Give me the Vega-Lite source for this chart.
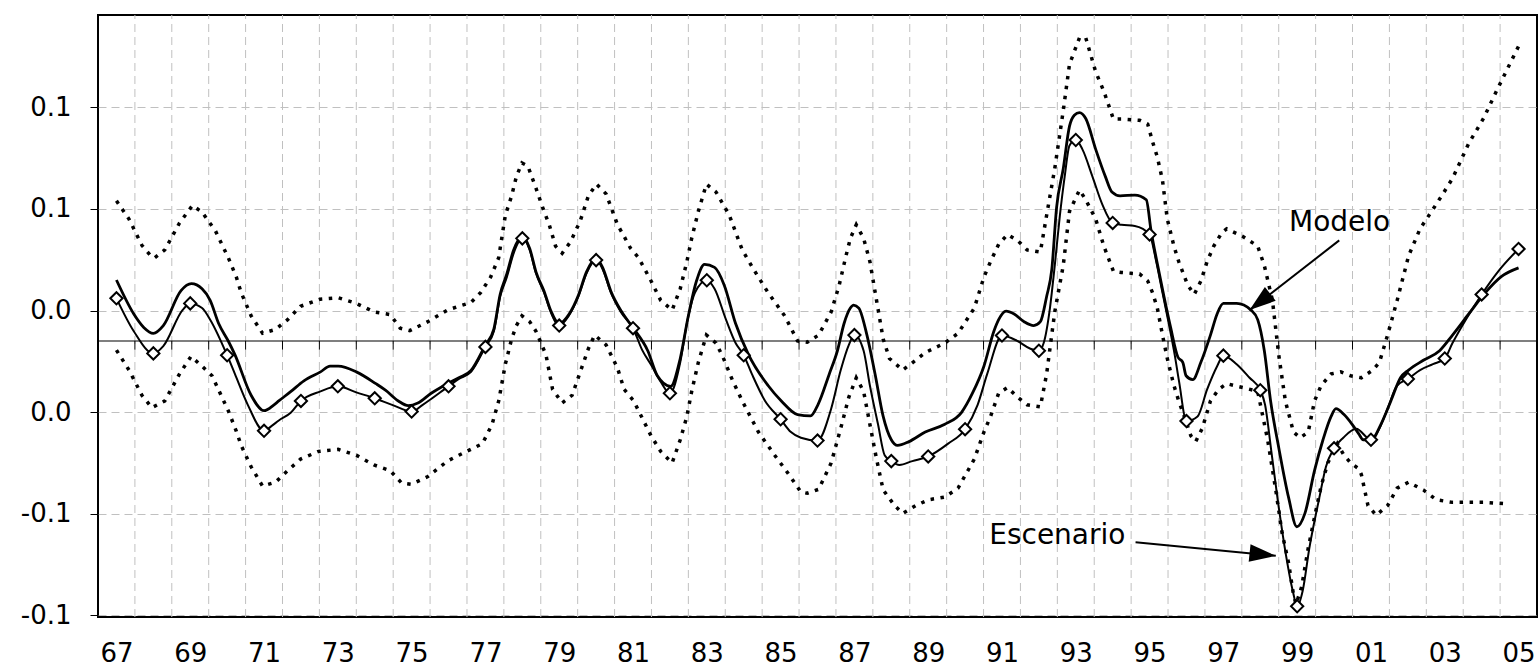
{
  "$schema": "https://vega.github.io/schema/vega-lite/v6.json",
  "width": 1439,
  "height": 602,
  "autosize": "none",
  "padding": {"left": 98, "top": 15, "right": 2, "bottom": 51},
  "background": "white",
  "view": {"stroke": "black", "strokeWidth": 2},
  "datasets": {
    "bounds": [{"t":1967.5},{"t":1968.5},{"t":1969.5},{"t":1970.5},{"t":1971.5},{"t":1972.5},{"t":1973.5},{"t":1974.5},{"t":1975.5},{"t":1976.5},{"t":1977.5},{"t":1978.5},{"t":1979.5},{"t":1980.5},{"t":1981.5},{"t":1982.5},{"t":1983.5},{"t":1984.5},{"t":1985.5},{"t":1986.5},{"t":1987.5},{"t":1988.5},{"t":1989.5},{"t":1990.5},{"t":1991.5},{"t":1992.5},{"t":1993.5},{"t":1994.5},{"t":1995.5},{"t":1996.5},{"t":1997.5},{"t":1998.5},{"t":1999.5},{"t":2000.5},{"t":2001.5},{"t":2002.5},{"t":2003.5},{"t":2004.5}],
    "diamonds": [{"t":1967,"v":0.021},{"t":1968,"v":-0.0061},{"t":1969,"v":0.0185},{"t":1970,"v":-0.007},{"t":1971,"v":-0.0442},{"t":1972,"v":-0.0295},{"t":1973,"v":-0.0223},{"t":1974,"v":-0.0282},{"t":1975,"v":-0.0347},{"t":1976,"v":-0.0223},{"t":1977,"v":-0.0029},{"t":1978,"v":0.0505},{"t":1979,"v":0.0076},{"t":1980,"v":0.0398},{"t":1981,"v":0.0063},{"t":1982,"v":-0.0257},{"t":1983,"v":0.0299},{"t":1984,"v":-0.007},{"t":1985,"v":-0.0385},{"t":1986,"v":-0.049},{"t":1987,"v":0.0029},{"t":1988,"v":-0.0591},{"t":1989,"v":-0.0568},{"t":1990,"v":-0.0434},{"t":1991,"v":0.0027},{"t":1992,"v":-0.0048},{"t":1993,"v":0.0989},{"t":1994,"v":0.0581},{"t":1995,"v":0.0524},{"t":1996,"v":-0.0394},{"t":1997,"v":-0.0072},{"t":1998,"v":-0.0242},{"t":1999,"v":-0.1305},{"t":2000,"v":-0.0528},{"t":2001,"v":-0.0486},{"t":2002,"v":-0.0187},{"t":2003,"v":-0.0086},{"t":2004,"v":0.0229},{"t":2005,"v":0.0453}],
    "escenario": [{"t":1967,"v":0.021},{"t":1967.47,"v":0.0048},{"t":1968,"v":-0.0061},{"t":1968.27,"v":-0.0025},{"t":1968.79,"v":0.0152},{"t":1969,"v":0.0185},{"t":1969.32,"v":0.0162},{"t":1969.54,"v":0.0105},{"t":1970,"v":-0.007},{"t":1970.21,"v":-0.0162},{"t":1970.56,"v":-0.0314},{"t":1971,"v":-0.0442},{"t":1971.2,"v":-0.0419},{"t":1971.4,"v":-0.0391},{"t":1971.73,"v":-0.0352},{"t":1972,"v":-0.0295},{"t":1972.53,"v":-0.0248},{"t":1973,"v":-0.0223},{"t":1973.5,"v":-0.0253},{"t":1974,"v":-0.0282},{"t":1974.47,"v":-0.0314},{"t":1975,"v":-0.0347},{"t":1975.3,"v":-0.0314},{"t":1976,"v":-0.0223},{"t":1976.28,"v":-0.0187},{"t":1976.61,"v":-0.0152},{"t":1977,"v":-0.0029},{"t":1977.23,"v":0.0048},{"t":1977.4,"v":0.0219},{"t":1977.58,"v":0.0314},{"t":1977.76,"v":0.0429},{"t":1978,"v":0.0505},{"t":1978.2,"v":0.0448},{"t":1978.37,"v":0.0333},{"t":1978.59,"v":0.0238},{"t":1978.77,"v":0.0143},{"t":1979,"v":0.0076},{"t":1979.26,"v":0.0124},{"t":1979.52,"v":0.0219},{"t":1979.74,"v":0.0333},{"t":1980,"v":0.0398},{"t":1980.18,"v":0.0352},{"t":1980.4,"v":0.0238},{"t":1980.67,"v":0.0143},{"t":1981,"v":0.0063},{"t":1981.25,"v":-0.0045},{"t":1981.5,"v":-0.012},{"t":1981.75,"v":-0.02},{"t":1982,"v":-0.0257},{"t":1982.28,"v":-0.0105},{"t":1982.46,"v":0.0086},{"t":1982.68,"v":0.0238},{"t":1983,"v":0.0299},{"t":1983.21,"v":0.0257},{"t":1983.52,"v":0.0105},{"t":1983.78,"v":-0.001},{"t":1984,"v":-0.007},{"t":1984.22,"v":-0.0162},{"t":1984.58,"v":-0.0295},{"t":1985,"v":-0.0385},{"t":1985.28,"v":-0.0448},{"t":1985.55,"v":-0.0476},{"t":1986,"v":-0.049},{"t":1986.37,"v":-0.0333},{"t":1986.63,"v":-0.0143},{"t":1986.85,"v":-0.0019},{"t":1987,"v":0.0029},{"t":1987.25,"v":-0.0048},{"t":1987.42,"v":-0.0219},{"t":1987.64,"v":-0.041},{"t":1987.82,"v":-0.0562},{"t":1988,"v":-0.0591},{"t":1988.22,"v":-0.061},{"t":1988.57,"v":-0.0591},{"t":1989,"v":-0.0568},{"t":1989.54,"v":-0.0505},{"t":1990,"v":-0.0434},{"t":1990.34,"v":-0.0314},{"t":1990.6,"v":-0.0162},{"t":1991,"v":0.0027},{"t":1991.42,"v":0.0},{"t":1991.77,"v":-0.0038},{"t":1992,"v":-0.0048},{"t":1992.13,"v":-0.001},{"t":1992.3,"v":0.0162},{"t":1992.43,"v":0.0371},{"t":1992.57,"v":0.0619},{"t":1992.7,"v":0.081},{"t":1992.83,"v":0.0962},{"t":1993,"v":0.0989},{"t":1993.18,"v":0.0943},{"t":1993.45,"v":0.081},{"t":1993.71,"v":0.0676},{"t":1994,"v":0.0581},{"t":1994.24,"v":0.0572},{"t":1994.6,"v":0.0566},{"t":1995,"v":0.0524},{"t":1995.18,"v":0.0391},{"t":1995.35,"v":0.0238},{"t":1995.52,"v":0.0086},{"t":1995.68,"v":-0.0067},{"t":1995.8,"v":-0.02},{"t":1996,"v":-0.0394},{"t":1996.3,"v":-0.0371},{"t":1996.56,"v":-0.0238},{"t":1996.83,"v":-0.0124},{"t":1997,"v":-0.0072},{"t":1997.36,"v":-0.0114},{"t":1997.71,"v":-0.0181},{"t":1998,"v":-0.0242},{"t":1998.13,"v":-0.0314},{"t":1998.3,"v":-0.0543},{"t":1998.48,"v":-0.0791},{"t":1998.7,"v":-0.1057},{"t":1998.88,"v":-0.1229},{"t":1999,"v":-0.1305},{"t":1999.15,"v":-0.1229},{"t":1999.33,"v":-0.1019},{"t":1999.6,"v":-0.0772},{"t":1999.78,"v":-0.0619},{"t":2000,"v":-0.0528},{"t":2000.25,"v":-0.0476},{"t":2000.6,"v":-0.0432},{"t":2001,"v":-0.0486},{"t":2001.23,"v":-0.0429},{"t":2001.45,"v":-0.0333},{"t":2001.71,"v":-0.0219},{"t":2002,"v":-0.0187},{"t":2002.33,"v":-0.0143},{"t":2002.68,"v":-0.0114},{"t":2003,"v":-0.0086},{"t":2003.21,"v":-0.001},{"t":2003.57,"v":0.0105},{"t":2004,"v":0.0229},{"t":2004.45,"v":0.0343},{"t":2005,"v":0.0453}],
    "modelo": [{"t":1967,"v":0.03},{"t":1967.47,"v":0.0133},{"t":1967.74,"v":0.0067},{"t":1968,"v":0.0038},{"t":1968.27,"v":0.0076},{"t":1968.75,"v":0.0248},{"t":1969.03,"v":0.0282},{"t":1969.32,"v":0.0257},{"t":1969.54,"v":0.02},{"t":1969.77,"v":0.0086},{"t":1970.03,"v":0.0},{"t":1970.21,"v":-0.0067},{"t":1970.65,"v":-0.0267},{"t":1971,"v":-0.0343},{"t":1971.27,"v":-0.0314},{"t":1971.4,"v":-0.0295},{"t":1971.73,"v":-0.0248},{"t":1972.08,"v":-0.0196},{"t":1972.53,"v":-0.0152},{"t":1972.79,"v":-0.0124},{"t":1973.01,"v":-0.0124},{"t":1973.5,"v":-0.0152},{"t":1974.03,"v":-0.021},{"t":1974.29,"v":-0.0242},{"t":1974.64,"v":-0.0295},{"t":1974.91,"v":-0.0318},{"t":1975.17,"v":-0.0305},{"t":1975.53,"v":-0.0257},{"t":1975.92,"v":-0.0215},{"t":1976.28,"v":-0.0181},{"t":1976.61,"v":-0.0145},{"t":1977,"v":-0.002},{"t":1977.23,"v":0.006},{"t":1977.4,"v":0.023},{"t":1977.58,"v":0.033},{"t":1977.76,"v":0.0445},{"t":1978,"v":0.0515},{"t":1978.2,"v":0.0455},{"t":1978.37,"v":0.034},{"t":1978.59,"v":0.0245},{"t":1978.77,"v":0.015},{"t":1979,"v":0.0085},{"t":1979.26,"v":0.013},{"t":1979.52,"v":0.0225},{"t":1979.74,"v":0.034},{"t":1980,"v":0.0405},{"t":1980.18,"v":0.036},{"t":1980.4,"v":0.0245},{"t":1980.67,"v":0.015},{"t":1981,"v":0.0065},{"t":1981.4,"v":-0.0048},{"t":1981.66,"v":-0.0171},{"t":1982.02,"v":-0.0223},{"t":1982.28,"v":-0.0086},{"t":1982.5,"v":0.0124},{"t":1982.72,"v":0.0295},{"t":1982.94,"v":0.0377},{"t":1983.21,"v":0.0362},{"t":1983.47,"v":0.0276},{"t":1983.78,"v":0.0086},{"t":1984.13,"v":-0.0067},{"t":1984.66,"v":-0.0219},{"t":1985.02,"v":-0.0295},{"t":1985.46,"v":-0.0362},{"t":1985.81,"v":-0.0368},{"t":1986.02,"v":-0.031},{"t":1986.32,"v":-0.0162},{"t":1986.54,"v":-0.0048},{"t":1986.72,"v":0.0086},{"t":1986.89,"v":0.0162},{"t":1986.98,"v":0.0177},{"t":1987.12,"v":0.0162},{"t":1987.34,"v":0.0029},{"t":1987.56,"v":-0.0162},{"t":1987.78,"v":-0.0371},{"t":1988,"v":-0.0486},{"t":1988.17,"v":-0.0514},{"t":1988.48,"v":-0.0495},{"t":1988.92,"v":-0.0448},{"t":1989.45,"v":-0.041},{"t":1989.9,"v":-0.0352},{"t":1990.2,"v":-0.0257},{"t":1990.51,"v":-0.0124},{"t":1990.78,"v":0.0048},{"t":1990.91,"v":0.0105},{"t":1991.11,"v":0.0147},{"t":1991.33,"v":0.0133},{"t":1991.6,"v":0.0095},{"t":1991.86,"v":0.0076},{"t":1992.04,"v":0.0095},{"t":1992.21,"v":0.0219},{"t":1992.35,"v":0.0352},{"t":1992.48,"v":0.0657},{"t":1992.66,"v":0.0848},{"t":1992.83,"v":0.1057},{"t":1992.96,"v":0.1111},{"t":1993.1,"v":0.1124},{"t":1993.27,"v":0.1095},{"t":1993.54,"v":0.0943},{"t":1993.8,"v":0.081},{"t":1993.98,"v":0.0733},{"t":1994.2,"v":0.0714},{"t":1994.6,"v":0.0718},{"t":1994.91,"v":0.0695},{"t":1995.04,"v":0.0543},{"t":1995.22,"v":0.0371},{"t":1995.39,"v":0.0219},{"t":1995.57,"v":0.0067},{"t":1995.77,"v":-0.008},{"t":1995.9,"v":-0.0105},{"t":1995.99,"v":-0.0171},{"t":1996.17,"v":-0.019},{"t":1996.39,"v":-0.0105},{"t":1996.65,"v":0.0029},{"t":1996.83,"v":0.0133},{"t":1997,"v":0.0185},{"t":1997.36,"v":0.0185},{"t":1997.75,"v":0.0152},{"t":1997.93,"v":0.0105},{"t":1998.11,"v":-0.0048},{"t":1998.28,"v":-0.0295},{"t":1998.5,"v":-0.0524},{"t":1998.77,"v":-0.0772},{"t":1998.99,"v":-0.0914},{"t":1999.21,"v":-0.0848},{"t":1999.47,"v":-0.0638},{"t":1999.7,"v":-0.0486},{"t":1999.92,"v":-0.0371},{"t":2000.05,"v":-0.0333},{"t":2000.27,"v":-0.0362},{"t":2000.49,"v":-0.041},{"t":2000.67,"v":-0.0457},{"t":2000.79,"v":-0.0486},{"t":2001.01,"v":-0.0486},{"t":2001.27,"v":-0.041},{"t":2001.54,"v":-0.0295},{"t":2001.8,"v":-0.0181},{"t":2002.02,"v":-0.0143},{"t":2002.42,"v":-0.0095},{"t":2002.86,"v":-0.0048},{"t":2003.21,"v":0.0029},{"t":2003.65,"v":0.0133},{"t":2004.1,"v":0.0238},{"t":2004.54,"v":0.0318},{"t":2005,"v":0.036}],
    "upper": [{"t":1967,"v":0.069},{"t":1967.34,"v":0.06},{"t":1967.69,"v":0.0471},{"t":1967.96,"v":0.0413},{"t":1968.04,"v":0.041},{"t":1968.31,"v":0.0448},{"t":1968.71,"v":0.0581},{"t":1969.06,"v":0.0667},{"t":1969.32,"v":0.0634},{"t":1969.68,"v":0.0543},{"t":1970.03,"v":0.041},{"t":1970.25,"v":0.0314},{"t":1970.38,"v":0.0238},{"t":1970.65,"v":0.0124},{"t":1970.96,"v":0.0038},{"t":1971.31,"v":0.0057},{"t":1971.64,"v":0.0105},{"t":1971.99,"v":0.0171},{"t":1972.52,"v":0.0206},{"t":1973.01,"v":0.0213},{"t":1973.5,"v":0.0185},{"t":1973.98,"v":0.0143},{"t":1974.42,"v":0.013},{"t":1974.69,"v":0.0063},{"t":1974.95,"v":0.0051},{"t":1975.44,"v":0.0095},{"t":1975.97,"v":0.0152},{"t":1976.28,"v":0.0171},{"t":1976.61,"v":0.019},{"t":1976.87,"v":0.0238},{"t":1977.14,"v":0.0314},{"t":1977.36,"v":0.041},{"t":1977.54,"v":0.0619},{"t":1977.71,"v":0.0714},{"t":1977.84,"v":0.081},{"t":1977.99,"v":0.0876},{"t":1978.15,"v":0.0861},{"t":1978.37,"v":0.0752},{"t":1978.55,"v":0.0657},{"t":1978.73,"v":0.0572},{"t":1978.9,"v":0.0467},{"t":1979.08,"v":0.0432},{"t":1979.3,"v":0.0486},{"t":1979.57,"v":0.0591},{"t":1979.79,"v":0.0714},{"t":1980.01,"v":0.0772},{"t":1980.27,"v":0.0724},{"t":1980.58,"v":0.0572},{"t":1980.76,"v":0.0514},{"t":1980.93,"v":0.0457},{"t":1981.15,"v":0.041},{"t":1981.49,"v":0.0295},{"t":1981.75,"v":0.02},{"t":1982.06,"v":0.0152},{"t":1982.28,"v":0.0257},{"t":1982.46,"v":0.0391},{"t":1982.59,"v":0.0505},{"t":1982.77,"v":0.0638},{"t":1982.99,"v":0.0772},{"t":1983.25,"v":0.0733},{"t":1983.61,"v":0.0619},{"t":1983.96,"v":0.0448},{"t":1984.27,"v":0.0352},{"t":1984.66,"v":0.0238},{"t":1985.11,"v":0.0124},{"t":1985.46,"v":0.0},{"t":1985.72,"v":-0.0006},{"t":1986.03,"v":0.0029},{"t":1986.37,"v":0.0143},{"t":1986.59,"v":0.0276},{"t":1986.76,"v":0.041},{"t":1986.89,"v":0.0505},{"t":1987.05,"v":0.0572},{"t":1987.25,"v":0.0505},{"t":1987.42,"v":0.0391},{"t":1987.6,"v":0.02},{"t":1987.78,"v":0.001},{"t":1987.95,"v":-0.0086},{"t":1988.31,"v":-0.0143},{"t":1988.66,"v":-0.0095},{"t":1988.92,"v":-0.0057},{"t":1989.45,"v":-0.001},{"t":1989.81,"v":0.0038},{"t":1990.25,"v":0.0162},{"t":1990.51,"v":0.0314},{"t":1990.69,"v":0.0391},{"t":1990.91,"v":0.0476},{"t":1991.15,"v":0.0524},{"t":1991.42,"v":0.0495},{"t":1991.68,"v":0.0448},{"t":1992.04,"v":0.0438},{"t":1992.21,"v":0.0619},{"t":1992.43,"v":0.0848},{"t":1992.66,"v":0.1133},{"t":1992.83,"v":0.1362},{"t":1993.1,"v":0.1492},{"t":1993.27,"v":0.1492},{"t":1993.54,"v":0.1324},{"t":1993.76,"v":0.1229},{"t":1994.02,"v":0.1092},{"t":1994.24,"v":0.1092},{"t":1994.73,"v":0.1086},{"t":1994.95,"v":0.1067},{"t":1995.08,"v":0.0981},{"t":1995.21,"v":0.0905},{"t":1995.35,"v":0.0791},{"t":1995.48,"v":0.06},{"t":1995.66,"v":0.0467},{"t":1995.79,"v":0.0391},{"t":1996.03,"v":0.0276},{"t":1996.21,"v":0.0229},{"t":1996.39,"v":0.0295},{"t":1996.56,"v":0.0391},{"t":1996.74,"v":0.0467},{"t":1996.96,"v":0.0533},{"t":1997.09,"v":0.0552},{"t":1997.53,"v":0.0514},{"t":1997.93,"v":0.0467},{"t":1998.11,"v":0.0371},{"t":1998.33,"v":0.02},{"t":1998.5,"v":-0.0067},{"t":1998.68,"v":-0.0295},{"t":1998.9,"v":-0.0448},{"t":1999.08,"v":-0.0476},{"t":1999.3,"v":-0.0448},{"t":1999.47,"v":-0.0295},{"t":1999.65,"v":-0.0219},{"t":1999.92,"v":-0.0162},{"t":2000.18,"v":-0.0152},{"t":2000.45,"v":-0.0171},{"t":2000.74,"v":-0.0181},{"t":2001.05,"v":-0.0143},{"t":2001.23,"v":-0.0105},{"t":2001.45,"v":0.0029},{"t":2001.71,"v":0.02},{"t":2002.02,"v":0.0419},{"t":2002.33,"v":0.0552},{"t":2002.68,"v":0.0648},{"t":2002.95,"v":0.0724},{"t":2003.21,"v":0.08},{"t":2003.65,"v":0.0972},{"t":2004.05,"v":0.1095},{"t":2004.4,"v":0.1229},{"t":2004.76,"v":0.1362},{"t":2005,"v":0.145}],
    "lower": [{"t":1967,"v":-0.0045},{"t":1967.34,"v":-0.0143},{"t":1967.69,"v":-0.0267},{"t":1967.96,"v":-0.0328},{"t":1968.31,"v":-0.0295},{"t":1968.71,"v":-0.0162},{"t":1969.02,"v":-0.0076},{"t":1969.32,"v":-0.0124},{"t":1969.59,"v":-0.0171},{"t":1970.03,"v":-0.0343},{"t":1970.25,"v":-0.0444},{"t":1970.38,"v":-0.0514},{"t":1970.65,"v":-0.0619},{"t":1970.96,"v":-0.0714},{"t":1971.31,"v":-0.0695},{"t":1971.64,"v":-0.0638},{"t":1971.99,"v":-0.0581},{"t":1972.48,"v":-0.0543},{"t":1973.01,"v":-0.0533},{"t":1973.5,"v":-0.0562},{"t":1973.98,"v":-0.061},{"t":1974.42,"v":-0.0638},{"t":1974.73,"v":-0.0699},{"t":1974.99,"v":-0.0705},{"t":1975.44,"v":-0.0667},{"t":1975.97,"v":-0.0591},{"t":1976.28,"v":-0.0562},{"t":1976.92,"v":-0.0505},{"t":1977.18,"v":-0.041},{"t":1977.36,"v":-0.0295},{"t":1977.54,"v":-0.0114},{"t":1977.71,"v":0.001},{"t":1977.84,"v":0.0076},{"t":1977.99,"v":0.0124},{"t":1978.2,"v":0.0095},{"t":1978.37,"v":0.0048},{"t":1978.64,"v":-0.0067},{"t":1978.82,"v":-0.0238},{"t":1979.08,"v":-0.0305},{"t":1979.35,"v":-0.0267},{"t":1979.57,"v":-0.0152},{"t":1979.79,"v":-0.0038},{"t":1979.96,"v":0.0029},{"t":1980.27,"v":-0.0019},{"t":1980.58,"v":-0.0133},{"t":1980.76,"v":-0.0238},{"t":1981.02,"v":-0.0295},{"t":1981.15,"v":-0.0343},{"t":1981.49,"v":-0.0467},{"t":1981.75,"v":-0.0543},{"t":1982.06,"v":-0.06},{"t":1982.28,"v":-0.0486},{"t":1982.46,"v":-0.0371},{"t":1982.59,"v":-0.0248},{"t":1982.77,"v":-0.0105},{"t":1982.99,"v":0.0029},{"t":1983.25,"v":-0.001},{"t":1983.43,"v":-0.0076},{"t":1983.69,"v":-0.0191},{"t":1983.96,"v":-0.0295},{"t":1984.4,"v":-0.0448},{"t":1984.84,"v":-0.0562},{"t":1985.19,"v":-0.0648},{"t":1985.55,"v":-0.0743},{"t":1985.72,"v":-0.0749},{"t":1986.03,"v":-0.073},{"t":1986.37,"v":-0.06},{"t":1986.63,"v":-0.0429},{"t":1986.85,"v":-0.0276},{"t":1987.05,"v":-0.0181},{"t":1987.25,"v":-0.0248},{"t":1987.42,"v":-0.041},{"t":1987.6,"v":-0.0581},{"t":1987.78,"v":-0.0733},{"t":1988.09,"v":-0.081},{"t":1988.31,"v":-0.0848},{"t":1988.66,"v":-0.081},{"t":1989.01,"v":-0.0781},{"t":1989.45,"v":-0.0768},{"t":1989.81,"v":-0.0724},{"t":1990.25,"v":-0.0581},{"t":1990.51,"v":-0.0448},{"t":1990.69,"v":-0.0371},{"t":1990.91,"v":-0.0257},{"t":1991.15,"v":-0.0229},{"t":1991.42,"v":-0.0276},{"t":1991.68,"v":-0.0314},{"t":1992.04,"v":-0.0324},{"t":1992.21,"v":-0.0162},{"t":1992.43,"v":0.0143},{"t":1992.66,"v":0.0371},{"t":1992.83,"v":0.0638},{"t":1993.1,"v":0.0743},{"t":1993.27,"v":0.0695},{"t":1993.54,"v":0.06},{"t":1993.76,"v":0.0467},{"t":1994.02,"v":0.0343},{"t":1994.24,"v":0.0337},{"t":1994.73,"v":0.033},{"t":1994.95,"v":0.0295},{"t":1995.08,"v":0.0238},{"t":1995.21,"v":0.0162},{"t":1995.35,"v":0.0029},{"t":1995.48,"v":-0.0086},{"t":1995.66,"v":-0.0219},{"t":1995.79,"v":-0.0295},{"t":1995.94,"v":-0.0371},{"t":1996.12,"v":-0.0467},{"t":1996.25,"v":-0.0495},{"t":1996.43,"v":-0.0429},{"t":1996.65,"v":-0.0295},{"t":1996.87,"v":-0.0238},{"t":1997.09,"v":-0.021},{"t":1997.53,"v":-0.0229},{"t":1997.93,"v":-0.0248},{"t":1998.2,"v":-0.0486},{"t":1998.42,"v":-0.0733},{"t":1998.59,"v":-0.0943},{"t":1998.77,"v":-0.1095},{"t":1998.9,"v":-0.1248},{"t":1998.97,"v":-0.1295},{"t":1999.12,"v":-0.121},{"t":1999.3,"v":-0.1019},{"t":1999.47,"v":-0.0867},{"t":1999.65,"v":-0.0714},{"t":1999.83,"v":-0.06},{"t":2000.09,"v":-0.0505},{"t":2000.27,"v":-0.0562},{"t":2000.45,"v":-0.06},{"t":2000.67,"v":-0.0629},{"t":2000.74,"v":-0.0657},{"t":2000.92,"v":-0.081},{"t":2001.14,"v":-0.0857},{"t":2001.45,"v":-0.081},{"t":2001.71,"v":-0.0724},{"t":2002.02,"v":-0.0695},{"t":2002.42,"v":-0.0733},{"t":2002.77,"v":-0.0781},{"t":2003.21,"v":-0.0794},{"t":2003.65,"v":-0.0794},{"t":2004.1,"v":-0.0794},{"t":2004.6,"v":-0.08}],
    "labels": [{"t":2000.15,"v":0.058,"text":"Modelo"},{"t":1992.5,"v":-0.096,"text":"Escenario"}],
    "arrows": [{"t":2000.14,"v":0.0495,"t2":1997.71,"v2":0.0152,"angle":232},{"t":1994.62,"v":-0.099,"t2":1998.42,"v2":-0.1057,"angle":96}]
  },
  "layer": [
    {
      "data": {"name": "bounds"},
      "mark": {"type": "rule", "color": "#c0c0c0", "strokeWidth": 1, "strokeDash": [8, 5]},
      "encoding": {
        "x": {"field": "t", "type": "quantitative", "scale": {"domain": [1966.5, 2005.5], "nice": false, "zero": false},
          "axis": {"orient": "bottom", "values": [1967,1969,1971,1973,1975,1977,1979,1981,1983,1985,1987,1989,1991,1993,1995,1997,1999,2001,2003,2005],
            "labelExpr": "slice(toString(datum.value), 2)", "title": null, "grid": false, "ticks": false, "tickSize": 0, "domain": false,
            "labelFont": "DejaVu Sans", "labelFontSize": 26, "labelColor": "black", "labelPadding": 36, "labelBaseline": "middle", "labelFlush": false, "labelOverlap": false}},
        "y": {"datum": -0.1358, "type": "quantitative"},
        "y2": {"datum": 0.1604}
      }
    },
    {
      "data": {"values": [{"v": 0}]},
      "mark": {"type": "rule", "color": "black", "strokeWidth": 1.2},
      "encoding": {
        "y": {"field": "v", "type": "quantitative",
          "scale": {"domain": [-0.1358, 0.1604], "nice": false, "zero": false},
          "axis": {"values": [0.115, 0.065, 0.015, -0.035, -0.085, -0.135],
            "labelExpr": "replace(format(datum.value, '.1f'), '\u2212', '-')",
            "title": null, "grid": true, "gridColor": "#c0c0c0", "gridDash": [8, 5], "gridWidth": 1,
            "domain": false, "tickSize": 8, "tickColor": "black", "tickWidth": 1,
            "labelFont": "DejaVu Sans", "labelFontSize": 26, "labelColor": "black", "labelPadding": 19}}
      }
    },
    {
      "data": {"name": "bounds"},
      "mark": {"type": "rule", "color": "black", "strokeWidth": 1},
      "encoding": {
        "x": {"field": "t", "type": "quantitative"},
        "y": {"datum": 0, "type": "quantitative"},
        "y2": {"datum": -0.0042}
      }
    },
    {
      "data": {"name": "upper"},
      "mark": {"type": "line", "color": "black", "strokeWidth": 3.5, "strokeDash": [3.5, 6.5], "strokeCap": "butt"},
      "encoding": {"x": {"field": "t", "type": "quantitative"}, "y": {"field": "v", "type": "quantitative"}}
    },
    {
      "data": {"name": "lower"},
      "mark": {"type": "line", "color": "black", "strokeWidth": 3.5, "strokeDash": [3.5, 6.5], "strokeCap": "butt"},
      "encoding": {"x": {"field": "t", "type": "quantitative"}, "y": {"field": "v", "type": "quantitative"}}
    },
    {
      "data": {"name": "modelo"},
      "mark": {"type": "line", "color": "black", "strokeWidth": 2.8, "interpolate": "monotone"},
      "encoding": {"x": {"field": "t", "type": "quantitative"}, "y": {"field": "v", "type": "quantitative"}}
    },
    {
      "data": {"name": "escenario"},
      "mark": {"type": "line", "color": "black", "strokeWidth": 2, "interpolate": "monotone"},
      "encoding": {"x": {"field": "t", "type": "quantitative"}, "y": {"field": "v", "type": "quantitative"}}
    },
    {
      "data": {"name": "diamonds"},
      "mark": {"type": "point", "shape": "diamond", "size": 150, "filled": true, "fill": "white", "stroke": "black", "strokeWidth": 2, "opacity": 1},
      "encoding": {"x": {"field": "t", "type": "quantitative"}, "y": {"field": "v", "type": "quantitative"}}
    },
    {
      "data": {"name": "arrows"},
      "mark": {"type": "rule", "color": "black", "strokeWidth": 2},
      "encoding": {
        "x": {"field": "t", "type": "quantitative"}, "y": {"field": "v", "type": "quantitative"},
        "x2": {"field": "t2"}, "y2": {"field": "v2"}
      }
    },
    {
      "data": {"name": "arrows"},
      "mark": {"type": "point", "shape": "M0,0L0.8,2.4L-0.8,2.4Z", "size": 480, "filled": true, "color": "black", "opacity": 1},
      "encoding": {
        "x": {"field": "t2", "type": "quantitative"}, "y": {"field": "v2", "type": "quantitative"},
        "angle": {"field": "angle", "type": "quantitative", "scale": null}
      }
    },
    {
      "data": {"name": "labels"},
      "mark": {"type": "text", "font": "DejaVu Sans", "fontSize": 28, "color": "black", "align": "center", "baseline": "middle"},
      "encoding": {
        "x": {"field": "t", "type": "quantitative"}, "y": {"field": "v", "type": "quantitative"},
        "text": {"field": "text"}
      }
    }
  ]
}
